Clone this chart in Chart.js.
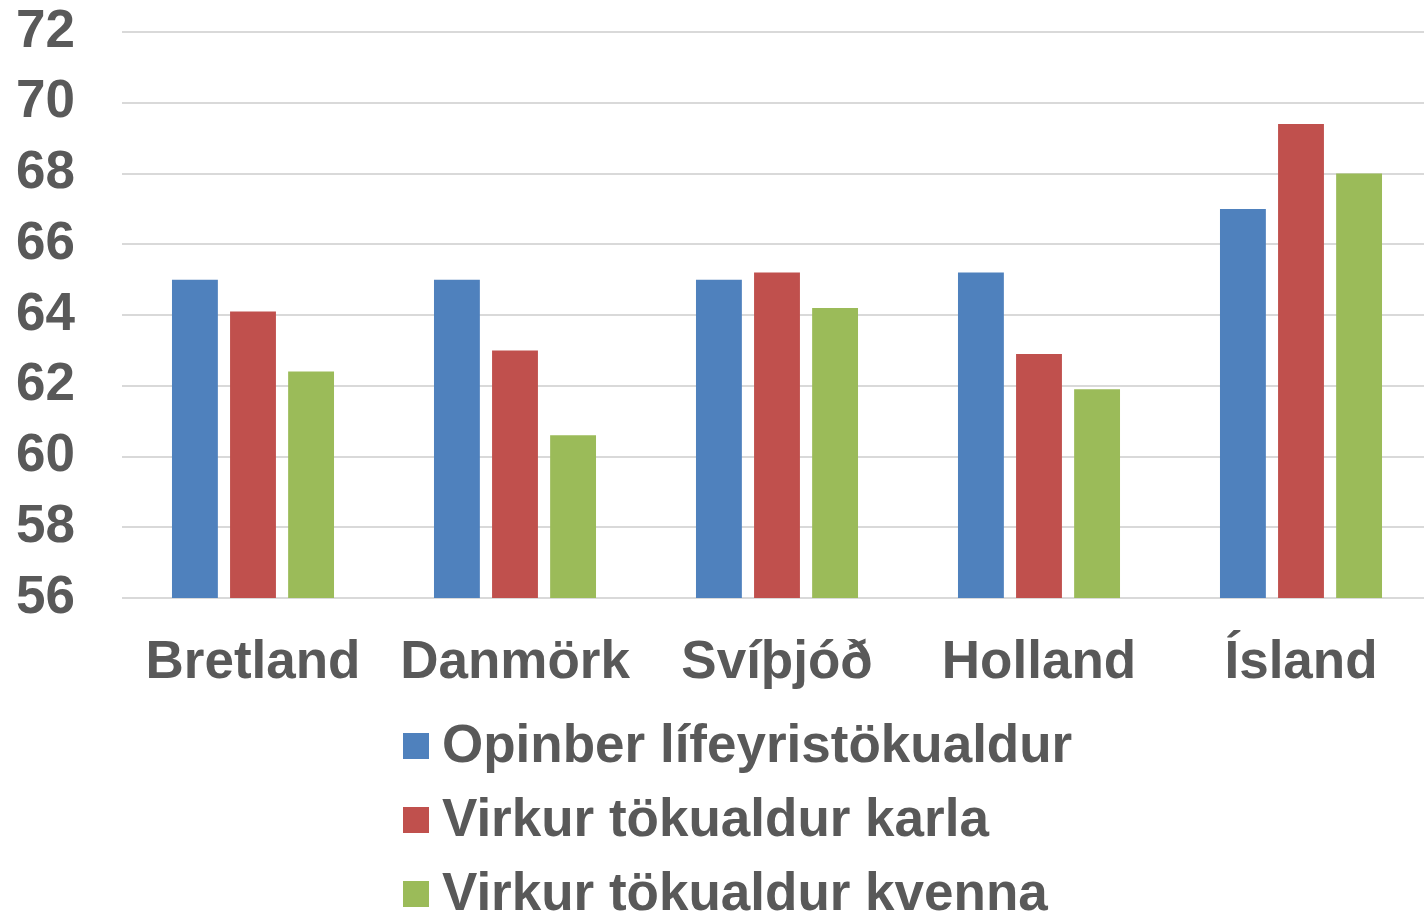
<!DOCTYPE html>
<html>
<head>
<meta charset="utf-8">
<script src="https://cdn.jsdelivr.net/npm/chart.js@4/dist/chart.umd.min.js"></script>
<style>
  html, body { margin: 0; padding: 0; background: #ffffff; overflow: hidden; }
  #wrap { width: 1424px; height: 915px; position: relative; overflow: hidden; }
  #c { position: absolute; left: 0; top: 0; }
</style>
</head>
<body>
<div id="wrap"><canvas id="c" width="1432" height="915"></canvas></div>
<script>
const categories = ['Bretland', 'Danmörk', 'Svíþjóð', 'Holland', 'Ísland'];
const seriesNames = ['Opinber lífeyristökualdur', 'Virkur tökualdur karla', 'Virkur tökualdur kvenna'];
const opinber = [65.0, 65.0, 65.0, 65.2, 67.0];
const karlar = [64.1, 63.0, 65.2, 62.9, 69.4];
const konur = [62.4, 60.6, 64.2, 61.9, 68.0];
const yMin = 56, yMax = 72, yStep = 2;
const colors = ['#4F81BD', '#C0504D', '#9BBB59'];
const textColor = '#595959';
const fontFamily = '"Liberation Sans", Arial, sans-serif';

const legendPlugin = {
  id: 'vertLegend',
  afterDraw(chart) {
    const ctx = chart.ctx;
    const base = chart.chartArea.bottom;
    ctx.save();
    ctx.font = 'bold 53px ' + fontFamily;
    ctx.textBaseline = 'middle';
    ctx.textAlign = 'left';
    chart.data.datasets.forEach((ds, i) => {
      const cy = base + 148 + i * 74;
      ctx.fillStyle = ds.backgroundColor;
      ctx.fillRect(403, cy - 13, 26, 26);
      ctx.fillStyle = textColor;
      ctx.fillText(ds.label, 442, cy + 1);
    });
    ctx.restore();
  }
};

new Chart(document.getElementById('c'), {
  type: 'bar',
  data: {
    labels: categories,
    datasets: [
      { label: seriesNames[0], data: opinber, backgroundColor: colors[0] },
      { label: seriesNames[1], data: karlar, backgroundColor: colors[1] },
      { label: seriesNames[2], data: konur, backgroundColor: colors[2] }
    ]
  },
  options: {
    responsive: false,
    animation: false,
    devicePixelRatio: 1,
    categoryPercentage: 0.665,
    barPercentage: 0.79,
    layout: { padding: { top: 32, right: 0, left: 0, bottom: 0 } },
    plugins: { legend: { display: false }, tooltip: { enabled: false } },
    scales: {
      x: {
        grid: { display: false, drawTicks: false },
        border: { display: false },
        ticks: { color: textColor, font: { family: fontFamily, size: 53, weight: 'bold' }, padding: 34, maxRotation: 0, autoSkip: false },
        afterFit(scale) { scale.height = 317; scale.paddingLeft = 0; scale.paddingRight = 0; }
      },
      y: {
        min: yMin, max: yMax,
        grid: { color: '#d9d9d9', lineWidth: 2, drawTicks: false },
        border: { display: false },
        ticks: { stepSize: yStep, color: textColor, font: { family: fontFamily, size: 53, weight: 'bold' }, padding: 47, autoSkip: false },
        afterFit(scale) { scale.width = 122; scale.paddingTop = 0; scale.paddingBottom = 0; }
      }
    }
  },
  plugins: [legendPlugin]
});
</script>
</body>
</html>
